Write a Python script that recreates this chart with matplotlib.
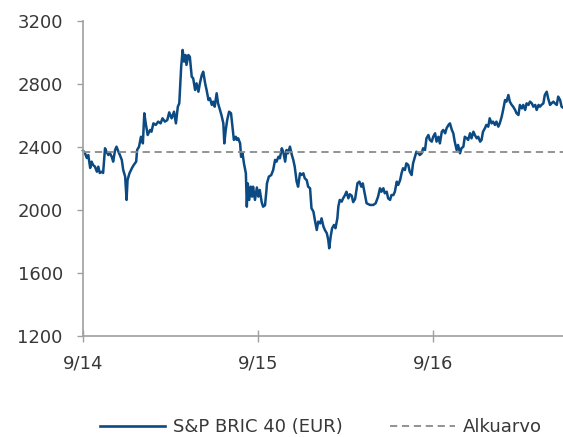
import datetime as dt
import matplotlib
matplotlib.use("Agg")
import matplotlib.pyplot as plt
from matplotlib.lines import Line2D

plt.rcParams['font.family'] = ['DejaVu Sans']

# S&P BRIC 40 (EUR): days since 1.9.2014 and index value
start = dt.date(2014, 9, 1)
days = [0, 4, 8, 11, 15, 18, 21, 25, 29, 32, 35, 39, 42, 46, 49, 53, 56, 60, 63, 67,
        70, 74, 77, 81, 84, 88, 91, 93, 97, 102, 106, 111, 113, 117, 121, 125, 128, 131, 135, 140,
        143, 147, 152, 157, 162, 166, 171, 176, 180, 185, 190, 194, 198, 201, 205, 208, 211, 214, 216, 220,
        223, 227, 230, 234, 237, 241, 244, 248, 251, 255, 258, 262, 265, 269, 272, 275, 279, 282, 286, 289,
        293, 295, 298, 301, 305, 309, 312, 315, 319, 321, 324, 328, 330, 333, 336, 340, 342, 344, 347, 350,
        353, 355, 359, 363, 366, 369, 373, 376, 380, 383, 384, 388, 393, 397, 401, 404, 408, 411, 415, 418,
        422, 425, 428, 432, 436, 439, 442, 446, 449, 453, 456, 460, 463, 467, 470, 474, 477, 481, 484, 488,
        491, 495, 498, 502, 505, 509, 512, 514, 517, 520, 524, 527, 531, 533, 536, 540, 543, 547, 550, 554,
        557, 561, 564, 568, 573, 577, 581, 584, 588, 592, 599, 606, 611, 616, 620, 623, 627, 630, 634, 637,
        641, 644, 648, 651, 655, 658, 662, 665, 668, 672, 675, 679, 682, 686, 689, 693, 696, 700, 703, 707,
        710, 714, 717, 721, 724, 728, 731, 735, 738, 742, 745, 749, 752, 756, 759, 763, 766, 770, 773, 776,
        780, 783, 787, 790, 794, 797, 801, 804, 808, 811, 815, 818, 822, 825, 829, 832, 835, 839, 842, 846,
        849, 853, 856, 860, 863, 867, 870, 874, 877, 881, 884, 888, 891, 895, 898, 902, 905, 909, 912, 916,
        919, 923, 926, 930, 933, 937, 940, 944, 947, 951, 954, 957, 961, 964, 968, 971, 975, 978, 982, 985,
        989, 992, 996, 999, 1002]
values = [2377, 2362, 2330, 2349, 2267, 2307, 2286, 2275, 2243, 2275, 2235, 2243, 2235, 2392, 2370, 2349, 2362, 2338, 2307, 2381,
          2402, 2370, 2349, 2318, 2254, 2212, 2064, 2190, 2233, 2265, 2286, 2307, 2381, 2402, 2465, 2423, 2614, 2550, 2476, 2508,
          2497, 2550, 2540, 2561, 2550, 2582, 2561, 2571, 2620, 2582, 2624, 2550, 2656, 2677, 2910, 3016, 2942, 2984, 2921, 2984,
          2973, 2846, 2836, 2762, 2804, 2751, 2804, 2857, 2878, 2804, 2762, 2698, 2709, 2667, 2688, 2656, 2741, 2677, 2635, 2603,
          2550, 2423, 2508, 2571, 2624, 2614, 2529, 2445, 2465, 2445, 2455, 2423, 2338, 2360, 2296, 2233, 2021, 2169, 2064, 2148,
          2085, 2148, 2064, 2143, 2085, 2127, 2050, 2021, 2030, 2127, 2169, 2212, 2222, 2254, 2318, 2307, 2338, 2328, 2392, 2370,
          2307, 2381, 2360, 2402, 2349, 2318, 2275, 2180, 2148, 2233, 2222, 2233, 2201, 2190, 2148, 2138, 2011, 1990, 1937, 1873,
          1926, 1915, 1947, 1894, 1873, 1852, 1810, 1757, 1831, 1884, 1905, 1884, 1947, 2021, 2064, 2053, 2074, 2095, 2116, 2074,
          2100, 2090, 2050, 2070, 2170, 2180, 2148, 2169, 2106, 2043, 2032, 2032, 2043, 2085, 2138, 2116, 2138, 2106, 2116, 2074,
          2064, 2095, 2095, 2116, 2180, 2159, 2190, 2233, 2265, 2254, 2296, 2286, 2244, 2222, 2296, 2338, 2370, 2360, 2349, 2360,
          2392, 2381, 2455, 2476, 2445, 2434, 2465, 2487, 2434, 2465, 2423, 2497, 2508, 2487, 2519, 2540, 2550, 2508, 2487, 2434,
          2381, 2413, 2360, 2392, 2402, 2465, 2455, 2445, 2487, 2455, 2497, 2476, 2455, 2465, 2434, 2445, 2497, 2519, 2540, 2529,
          2582, 2550, 2561, 2540, 2561, 2529, 2550, 2592, 2635, 2698, 2688, 2730, 2688, 2667, 2656, 2635, 2614, 2603, 2667, 2645,
          2667, 2635, 2677, 2667, 2688, 2677, 2656, 2667, 2635, 2667, 2656, 2667, 2677, 2730, 2751, 2709, 2667, 2677, 2688, 2677,
          2667, 2720, 2698, 2656, 2650]
start_value = 2368

tick_dates = [dt.date(2014, 9, 1), dt.date(2015, 9, 1), dt.date(2016, 9, 1)]
tick_labels = ['9/14', '9/15', '9/16']
y_ticks = [1200, 1600, 2000, 2400, 2800, 3200]

dates = [start + dt.timedelta(days=d) for d in days]

blue = '#0b4a82'
grey = '#8a8a8a'
text_col = '#383838'

fig = plt.figure(figsize=(5.63, 4.37), dpi=100)
ax = fig.add_axes([0.1474, 0.2311, 0.8526, 0.7209])

ax.plot(dates, values, color=blue, lw=1.8, solid_joinstyle='round', clip_on=False)
ax.axhline(start_value, color=grey, lw=1.3, linestyle=(0, (4, 2.6)))

ax.set_xlim(dates[0], dates[-1])
ax.set_ylim(1200, 3200)
ax.set_yticks(y_ticks)
ax.set_xticks(tick_dates)
ax.set_xticklabels(tick_labels)

for s in ['top', 'right']:
    ax.spines[s].set_visible(False)
for s in ['left', 'bottom']:
    ax.spines[s].set_color('#a0a0a0')
    ax.spines[s].set_linewidth(1.2)

ax.tick_params(axis='y', length=4.5, width=1.0, color='#a0a0a0', pad=10,
               labelsize=13, labelcolor=text_col)
ax.tick_params(axis='x', direction='inout', length=8, width=1.0, color='#a0a0a0', pad=9,
               labelsize=13, labelcolor=text_col)

handles = [Line2D([], [], color=blue, lw=1.9),
           Line2D([], [], color=grey, lw=1.3, linestyle=(0, (4, 2.6)))]
leg = fig.legend(handles, ['S&P BRIC 40 (EUR)', 'Alkuarvo'], loc='center',
                 bbox_to_anchor=(0.57, 0.022), ncol=2, frameon=False,
                 handlelength=3.6, handletextpad=0.45, columnspacing=2.6,
                 prop={'size': 13})
for t in leg.get_texts():
    t.set_color(text_col)

fig.savefig('out.png', dpi=100)
